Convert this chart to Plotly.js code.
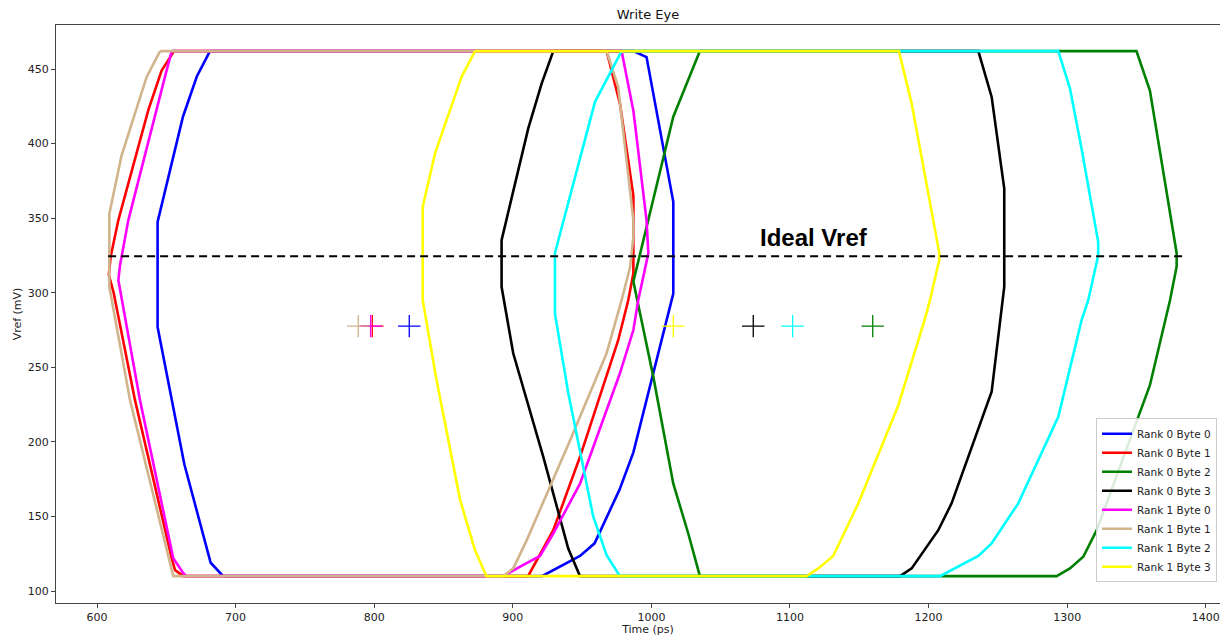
<!DOCTYPE html>
<html>
<head>
<meta charset="utf-8">
<script src="https://cdn.plot.ly/plotly-3.0.1.min.js"></script>
<style>html,body{margin:0;padding:0;overflow:hidden;background:#fff;}</style>
</head>
<body>
<div id="chart"></div>
<script>
// Series names
const seriesNames = ["Rank 0 Byte 0","Rank 0 Byte 1","Rank 0 Byte 2","Rank 0 Byte 3",
                     "Rank 1 Byte 0","Rank 1 Byte 1","Rank 1 Byte 2","Rank 1 Byte 3"];
const seriesColors = ["#0000ff","#ff0000","#008000","#000000","#ff00ff","#d2b48c","#00ffff","#ffff00"];

// Eye outlines (Time ps, Vref mV)
const r0b0_x = [681.5,672,662,643.7,643.7,654,663,682,691,921,948.5,959,977,987,1015.8,1015.8,996.5,987,681.5];
const r0b0_y = [462,445,418,347.5,277,228,185,119,110,110,123.5,132,168,193,299.5,361,458,462,462];

const r0b1_x = [655.6,646.6,637,615.4,609.8,608.5,612,627.4,653.9,656.3,662.3,911,929.2,948.5,976,983.3,987,987,977.3,967.7,655.6];
const r0b1_y = [462,449,422.4,348.7,324,312,300,228,121.9,114,110,110,140.8,190,268,295,313,365,426.8,462,462];

const r0b2_x = [1035,1015.8,987,993,1001.4,1015.8,1026.6,1035,1292.4,1302,1311.6,1321.3,1328.5,1359.7,1374.2,1379,1379,1359.7,1350,1035];
const r0b2_y = [462,418,307.5,281.6,243.6,172,138.6,110,110,115.2,123,140.8,158.8,238,295,317.6,326.5,435.5,462,462];

const r0b3_x = [929.2,920.8,911.1,891.9,891.9,900.3,922,940,948.5,1179.4,1187.8,1207,1216.6,1245.5,1254.6,1254.6,1245.5,1235.9,929.2];
const r0b3_y = [462,440.2,410,335.3,304,259.4,190,128.5,110,110,115.2,140.8,158.8,233.6,304,369.8,431.3,462,462];

const r1b0_x = [653.9,649,622.6,616.6,615.4,631,655,662.3,664.5,893,902.7,919.6,929.2,948.5,977.3,987,990.5,997.8,996.5,987,978.5,653.9];
const r1b0_y = [462,444.7,348.7,318.5,308.4,228,122,112,110,110,115,123.5,138.6,172,246,275,295,326.5,348.7,422,462,462];

const r1b1_x = [645.5,635.8,617.7,608.9,608.9,623.8,655,893.2,900.3,910,941.3,967.7,978.5,984.6,987,987,976,967.7,645.5];
const r1b1_y = [462,444.7,392,353,304,228,110,110,115.2,134,201,259.4,295,317,337.5,348.7,438,462,462];

const r1b2_x = [978.5,959.3,930.4,930.4,940,958,967.7,977.3,1208.2,1235.9,1245.5,1264.7,1293.6,1310.4,1315.2,1322.4,1322.4,1310.4,1302,1293.6,978.5];
const r1b2_y = [462,428,326.5,286,233,150,124,110,110,123.5,132,158.8,216.8,281.6,295,325,334,396.6,437,462,462];

const r1b3_x = [872.7,863,843.9,835,835,845,862,872.7,881,1112,1120.4,1131.2,1149.3,1178.2,1197.4,1201,1207.7,1207.7,1187.8,1178.6,872.7];
const r1b3_y = [462,444.7,393.4,357.6,295,241.4,161,127.5,110,110,115.2,123.5,158.8,224.6,282.6,295,321.9,326.8,426.8,462,462];

const eyeX = [r0b0_x,r0b1_x,r0b2_x,r0b3_x,r1b0_x,r1b1_x,r1b2_x,r1b3_x];
const eyeY = [r0b0_y,r0b1_y,r0b2_y,r0b3_y,r1b0_y,r1b1_y,r1b2_y,r1b3_y];

// Eye centres (cross markers)
const centerX = [825.3,798.6,1159.7,1073.5,797.4,788.5,1101.9,1015.8];
const centerY = [277.6,277.6,277.6,277.6,277.6,277.6,277.6,277.6];

// Ideal Vref line
const idealVrefX = [608,1383.5];
const idealVrefY = [324.5,324.5];
const idealLabel = "Ideal Vref";
const idealLabelPos = [1117,337];

const xTicks = [600,700,800,900,1000,1100,1200,1300,1400];
const yTicks = [100,150,200,250,300,350,400,450];

const traces = [];
for (let i = 0; i < seriesNames.length; i++) {
  traces.push({
    x: eyeX[i], y: eyeY[i], type: "scatter", mode: "lines",
    name: seriesNames[i],
    line: {color: seriesColors[i], width: 2.6},
    showlegend: true
  });
}
traces.push({
  x: idealVrefX, y: idealVrefY, type: "scatter", mode: "lines",
  line: {color: "#000", width: 2, dash: "8px,5px"}, showlegend: false, hoverinfo: "skip"
});
for (let i = 0; i < seriesNames.length; i++) {
  traces.push({
    x: [centerX[i]], y: [centerY[i]], type: "scatter", mode: "markers",
    marker: {symbol: "cross-thin", size: 16, line: {color: seriesColors[i], width: 1.3}},
    showlegend: false, hoverinfo: "skip"
  });
}

const axisCommon = {
  showgrid: false, zeroline: false, showline: true, mirror: true,
  linecolor: "#444", linewidth: 1, ticks: "outside", ticklen: 4, tickwidth: 1, tickcolor: "#444",
  tickfont: {family: "DejaVu Sans", size: 11, color: "#222"}
};

const layout = {
  width: 1240, height: 636,
  margin: {l: 56, r: 0, t: 25, b: 33},
  paper_bgcolor: "#fff", plot_bgcolor: "#fff",
  title: {text: "Write Eye", font: {family: "DejaVu Sans", size: 13, color: "#111"}, x: 0.5, xref: "paper", y: 0.978, yanchor: "middle"},
  xaxis: Object.assign({}, axisCommon, {
    range: [570.4, 1424.7], tickvals: xTicks, ticktext: xTicks.map(String),
    title: {text: "Time (ps)", font: {family: "DejaVu Sans", size: 11, color: "#222"}, standoff: 4}
  }),
  yaxis: Object.assign({}, axisCommon, {
    range: [92, 479.5], tickvals: yTicks, ticktext: yTicks.map(String),
    title: {text: "Vref (mV)", font: {family: "DejaVu Sans", size: 11, color: "#222"}, standoff: 3}
  }),
  legend: {
    x: 0.8784, y: 0.036, xanchor: "left", yanchor: "bottom",
    bgcolor: "rgba(255,255,255,0.85)", bordercolor: "#ccc", borderwidth: 1,
    font: {family: "DejaVu Sans", size: 10.5, color: "#222"},
    tracegroupgap: 0, itemwidth: 30
  },
  annotations: [{
    x: idealLabelPos[0], y: idealLabelPos[1], xref: "x", yref: "y",
    text: "<b>" + idealLabel + "</b>", showarrow: false,
    font: {family: "Liberation Sans", size: 24, color: "#000"}
  }],
  showlegend: true
};

Plotly.newPlot("chart", traces, layout, {displayModeBar: false, staticPlot: true});
</script>
</body>
</html>
